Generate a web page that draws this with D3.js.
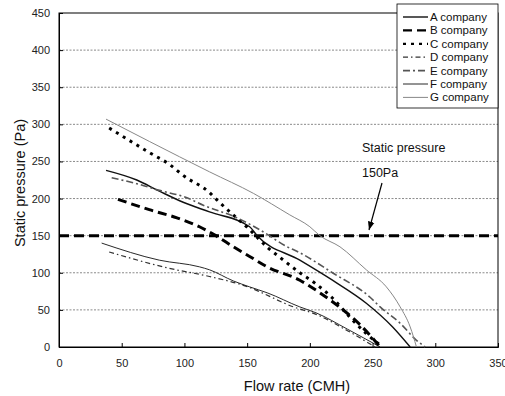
<!DOCTYPE html>
<html>
<head>
<meta charset="utf-8">
<script src="https://cdn.jsdelivr.net/npm/d3@7"></script>
<style>
  body { margin: 0; background: #fff; }
  svg { display: block; font-family: "Liberation Sans", Arial, sans-serif; }
</style>
</head>
<body>
<svg width="505" height="396"></svg>
<script>
// flow rate (CMH), static pressure (Pa)
const aCompany = [[37.5, 238], [62, 225], [80, 210], [99, 195], [120, 182], [152, 162], [158, 150], [192, 117], [218, 90], [245, 59], [266, 27], [280, 0]];
const bCompany = [[47, 199], [72, 185], [94, 174], [112, 162], [125, 150], [139, 135], [152, 122], [166, 108], [192, 90], [208, 73], [225, 52], [240, 30], [250, 12], [256, 0]];
const cCompany = [[40, 295], [72, 262], [88, 246], [100, 230], [120, 208], [126, 198], [152, 158], [167, 133], [176, 121], [192, 100], [204, 86], [218, 66], [232, 40], [245, 18], [258, 0]];
const dCompany = [[40, 128], [88, 106], [120, 95], [147, 83], [152, 80], [187, 54], [205, 44], [230, 22], [252, 0]];
const eCompany = [[42, 228], [62, 220], [80, 211], [102, 201], [115, 191], [142, 174], [160, 158], [182, 135], [192, 127], [218, 100], [248, 67], [256, 54], [272, 32], [285, 9], [292, 0]];
const fCompany = [[34, 140], [80, 117], [112, 108], [120, 104], [139, 89], [152, 81], [166, 73], [192, 54], [205, 46], [230, 24], [256, 0]];
const gCompany = [[37.5, 307], [72, 277], [120, 236], [155, 207], [184, 178], [200, 162], [208, 150], [224, 135], [245, 104], [261, 81], [272, 54], [280, 27], [285, 0]];

const companies = ["A company", "B company", "C company", "D company", "E company", "F company", "G company"];
const seriesData = [aCompany, bCompany, cCompany, dCompany, eCompany, fCompany, gCompany];
const xTicks = [0, 50, 100, 150, 200, 250, 300, 350];
const yTicks = [0, 50, 100, 150, 200, 250, 300, 350, 400, 450];
const staticPressure = 150;

const styles = [
  { color: "#111", width: 1.4, dash: null },
  { color: "#000", width: 3, dash: "9,5" },
  { color: "#000", width: 3, dash: "3,5" },
  { color: "#333", width: 1.2, dash: "5,3,1.5,3" },
  { color: "#555", width: 1.6, dash: "7,3,2,3" },
  { color: "#111", width: 0.9, dash: null },
  { color: "#888", width: 1, dash: null }
];

const svg = d3.select("svg");
const margin = { top: 13, right: 7, bottom: 49, left: 59 };
const width = 505;
const height = 396;

const xScale = d3.scaleLinear().domain([0, 350]).range([margin.left, width - margin.right]);
const yScale = d3.scaleLinear().domain([0, 450]).range([height - margin.bottom, margin.top]);

// dotted gridlines
svg.append("g")
  .selectAll("line")
  .data(yTicks.filter(d => d > 0 && d < 450))
  .enter()
  .append("line")
  .attr("x1", xScale(0))
  .attr("x2", xScale(350))
  .attr("y1", d => yScale(d))
  .attr("y2", d => yScale(d))
  .attr("stroke", "#8a8a8a")
  .attr("stroke-width", 1)
  .attr("stroke-dasharray", "2,1.5");

// frame
svg.append("rect")
  .attr("x", xScale(0))
  .attr("y", yScale(450))
  .attr("width", xScale(350) - xScale(0))
  .attr("height", yScale(0) - yScale(450))
  .attr("fill", "none")
  .attr("stroke", "#000")
  .attr("stroke-width", 1);

const xAxis = d3.axisBottom(xScale).tickValues(xTicks).tickSize(-4).tickPadding(12);
const yAxis = d3.axisLeft(yScale).tickValues(yTicks).tickSize(-4).tickPadding(9);

const gx = svg.append("g")
  .attr("transform", "translate(" + [0, yScale(0)] + ")")
  .call(xAxis);
const gy = svg.append("g")
  .attr("transform", "translate(" + [xScale(0), 0] + ")")
  .call(yAxis);

[gx, gy].forEach(g => {
  g.select(".domain").attr("stroke", "#000");
  g.selectAll(".tick line").attr("stroke", "#000");
  g.selectAll(".tick text")
    .attr("font-size", 11)
    .attr("fill", "#222")
    .attr("font-family", "Liberation Sans, Arial, sans-serif");
});

// static pressure line
svg.append("line")
  .attr("x1", xScale(0))
  .attr("x2", xScale(350))
  .attr("y1", yScale(staticPressure))
  .attr("y2", yScale(staticPressure))
  .attr("stroke", "#000")
  .attr("stroke-width", 3)
  .attr("stroke-dasharray", "10,5");

// curves
const line = d3.line()
  .x(d => xScale(d[0]))
  .y(d => yScale(d[1]))
  .curve(d3.curveMonotoneX);

svg.append("g")
  .selectAll("path")
  .data(seriesData)
  .enter()
  .append("path")
  .attr("d", line)
  .attr("fill", "none")
  .attr("stroke", (d, i) => styles[i].color)
  .attr("stroke-width", (d, i) => styles[i].width)
  .attr("stroke-dasharray", (d, i) => styles[i].dash);

// annotation
svg.append("defs").append("marker")
  .attr("id", "arrow")
  .attr("viewBox", "0 0 10 10")
  .attr("refX", 10)
  .attr("refY", 5)
  .attr("markerWidth", 7)
  .attr("markerHeight", 7)
  .attr("orient", "auto")
  .append("path")
  .attr("d", "M0,1L10,5L0,9Z")
  .attr("fill", "#000");

svg.append("text")
  .attr("x", 362)
  .attr("y", 152)
  .attr("font-size", 12.5)
  .attr("fill", "#111")
  .text("Static pressure");
svg.append("text")
  .attr("x", 362)
  .attr("y", 177)
  .attr("font-size", 12.5)
  .attr("fill", "#111")
  .text("150Pa");
svg.append("line")
  .attr("x1", 382)
  .attr("y1", 183)
  .attr("x2", 369)
  .attr("y2", 230)
  .attr("stroke", "#000")
  .attr("stroke-width", 1.2)
  .attr("marker-end", "url(#arrow)");

// axis titles
svg.append("text")
  .attr("x", 297)
  .attr("y", 391)
  .attr("text-anchor", "middle")
  .attr("font-size", 14.5)
  .attr("fill", "#111")
  .text("Flow rate (CMH)");
svg.append("text")
  .attr("transform", "translate(25,183) rotate(-90)")
  .attr("text-anchor", "middle")
  .attr("font-size", 14.5)
  .attr("fill", "#111")
  .text("Static pressure (Pa)");

// legend
const legend = svg.append("g");
legend.append("rect")
  .attr("x", 397)
  .attr("y", 4)
  .attr("width", 101)
  .attr("height", 104)
  .attr("fill", "#fff")
  .attr("stroke", "#000")
  .attr("stroke-width", 0.8);

const rows = legend.selectAll("g.row")
  .data(companies)
  .enter()
  .append("g")
  .attr("class", "row")
  .attr("transform", (d, i) => "translate(0," + (17 + i * 13.4) + ")");

rows.append("line")
  .attr("x1", 403)
  .attr("x2", 428)
  .attr("stroke", (d, i) => styles[i].color)
  .attr("stroke-width", (d, i) => Math.min(styles[i].width, 2.2))
  .attr("stroke-dasharray", (d, i) => styles[i].dash);

rows.append("text")
  .attr("x", 430)
  .attr("y", 4)
  .attr("font-size", 11.5)
  .attr("fill", "#111")
  .text(d => d);
</script>
</body>
</html>
